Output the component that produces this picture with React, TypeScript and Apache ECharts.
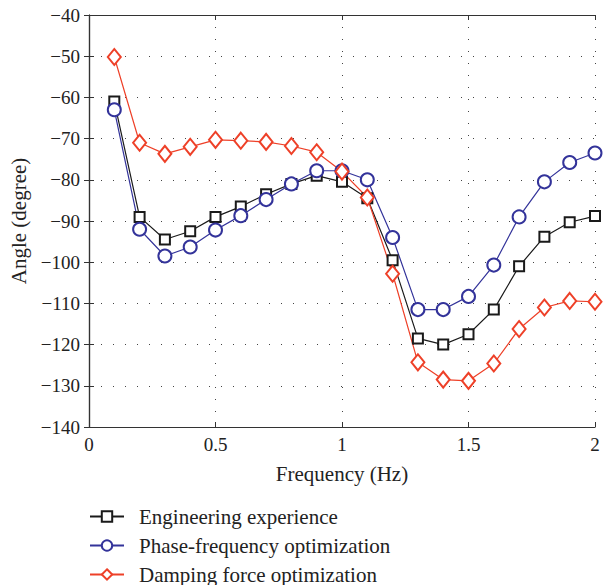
import React, { useEffect, useRef } from "react";
import * as echarts from "echarts";

const freq = [0.1, 0.2, 0.3, 0.4, 0.5, 0.6, 0.7, 0.8, 0.9, 1.0, 1.1, 1.2, 1.3, 1.4, 1.5, 1.6, 1.7, 1.8, 1.9, 2.0];
const engineering = [-61, -89, -94.5, -92.5, -89, -86.5, -83.5, -81, -79, -80.5, -84.5, -99.5, -118.5, -120, -117.5, -111.5, -101, -93.8, -90.3, -88.8];
const phaseFreq = [-63, -92, -98.5, -96.3, -92.2, -88.7, -84.8, -81, -77.8, -77.8, -80, -94, -111.5, -111.5, -108.3, -100.7, -89, -80.5, -75.8, -73.5];
const damping = [-50.2, -71, -73.7, -72, -70.3, -70.5, -70.8, -71.8, -73.3, -78, -84.3, -102.8, -124.3, -128.5, -128.8, -124.6, -116.2, -111, -109.4, -109.6];
const seriesNames = ["Engineering experience", "Phase-frequency optimization", "Damping force optimization"];

const FONT = "'Liberation Serif', 'DejaVu Serif', serif";

export default function App() {
  const ref = useRef<HTMLDivElement>(null);
  useEffect(() => {
    document.body.style.margin = "0";
    if (!ref.current) return;
    const chart = echarts.init(ref.current, null, { renderer: "svg" });
    const pair = (ys: number[]) => freq.map((x, i) => [x, ys[i]]);
    const gridLine = { show: true, lineStyle: { color: "#444", width: 1, type: [1, 11] as any } };
    const axisLine = { show: true, lineStyle: { color: "#333", width: 1.2 } };
    const tick = { show: true, inside: true, length: 5, lineStyle: { color: "#333" } };
    const mkSeries = (name: string, data: number[], color: string, symbol: string, size: any) => ({
      name,
      type: "line",
      data: pair(data),
      symbol,
      symbolSize: size,
      showSymbol: true,
      lineStyle: { color, width: 1.2 },
      itemStyle: { color, borderColor: color, borderWidth: 1.2 },
      z: 3,
    });
    chart.setOption({
      animation: false,
      backgroundColor: "#fff",
      textStyle: { fontFamily: FONT },
      grid: { left: 89, right: 13, top: 15, bottom: 158, containLabel: false },
      xAxis: [
        {
          type: "value",
          min: 0,
          max: 2,
          interval: 0.5,
          name: "Frequency (Hz)",
          nameLocation: "middle",
          nameGap: 36,
          nameTextStyle: { fontFamily: FONT, fontSize: 21, color: "#222" },
          axisLine,
          axisTick: tick,
          axisLabel: { fontFamily: FONT, fontSize: 19, color: "#222", margin: 8 },
          splitLine: gridLine,
        },
        {
          type: "value",
          position: "top",
          min: 0,
          max: 2,
          interval: 0.5,
          axisLine,
          axisTick: tick,
          axisLabel: { show: false },
          splitLine: { show: false },
        },
      ],
      yAxis: [
        {
          type: "value",
          min: -140,
          max: -40,
          interval: 10,
          name: "Angle (degree)",
          nameLocation: "middle",
          nameGap: 60,
          nameTextStyle: { fontFamily: FONT, fontSize: 21, color: "#222" },
          axisLine,
          axisTick: tick,
          axisLabel: {
            fontFamily: FONT,
            fontSize: 19,
            color: "#222",
            margin: 9,
            formatter: (v: number) => String(v).replace("-", "\u2212"),
          },
          splitLine: gridLine,
        },
        {
          type: "value",
          position: "right",
          min: -140,
          max: -40,
          interval: 10,
          axisLine,
          axisTick: tick,
          axisLabel: { show: false },
          splitLine: { show: false },
        },
      ],
      legend: {
        orient: "vertical",
        left: 89,
        top: 506,
        padding: 0,
        itemWidth: 34,
        itemHeight: 13,
        itemGap: 8,
        textStyle: { fontFamily: FONT, fontSize: 21, color: "#222", padding: [0, 0, 0, 10] },
        data: seriesNames,
      },
      series: [
        mkSeries(seriesNames[0], engineering, "#1a1a1a", "emptyRect", 10),
        mkSeries(seriesNames[1], phaseFreq, "#33339a", "emptyCircle", 13),
        mkSeries(seriesNames[2], damping, "#ee4028", "emptyDiamond", [13, 16]),
      ],
    });
    return () => chart.dispose();
  }, []);
  return <div ref={ref} style={{ width: 608, height: 585 }} />;
}
